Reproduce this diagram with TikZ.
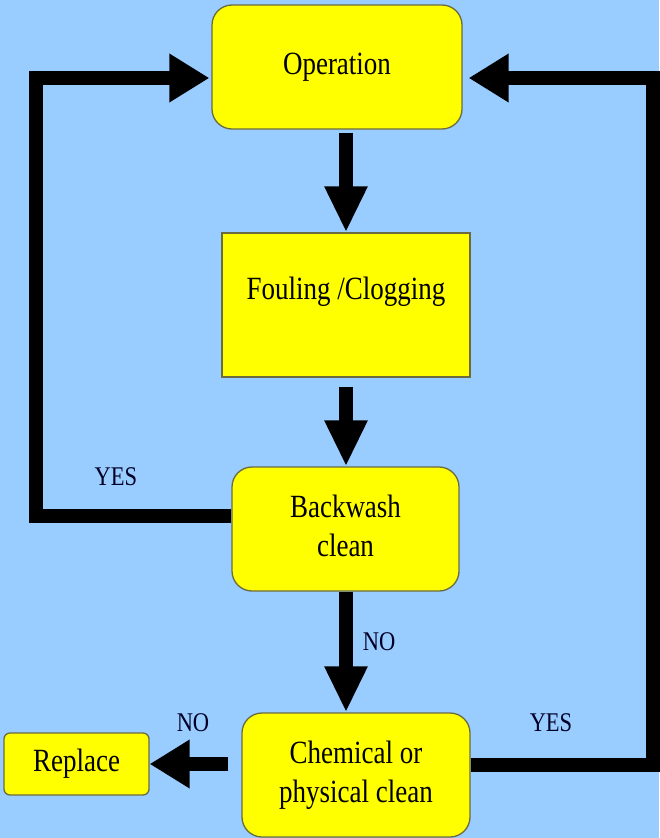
\documentclass[tikz,border=0pt]{standalone}
\usepackage{fontspec}
\setmainfont{Liberation Serif}
\usepackage{graphicx}
\usetikzlibrary{arrows.meta}
\definecolor{bgblue}{HTML}{99CCFF}
\definecolor{boxyellow}{HTML}{FFFF00}
\definecolor{boxedge}{HTML}{6B6B40}
\newcommand{\bxtext}[1]{\scalebox{1}[1.2]{\begin{tabular}{@{}c@{}}#1\end{tabular}}}
\newcommand{\lbtext}[1]{\scalebox{1}[1.2]{#1}}
\tikzset{
  box/.style={draw=boxedge, line width=1.3pt, fill=boxyellow, inner sep=0pt,
    rounded corners=20pt, font=\fontsize{27}{33}\selectfont, text=black},
  sqbox/.style={box, rounded corners=0pt},
  lbl/.style={font=\fontsize{22.5}{27}\selectfont, text=black!85!blue, inner sep=0pt},
  dnarrow/.style={line width=14pt, -{Triangle[width=40pt,length=46pt]}},
  hzarrow/.style={line width=14pt, -{Triangle[width=46pt,length=40pt]}},
}
\begin{document}
\begin{tikzpicture}[x=1pt,y=-1pt]
\fill[bgblue] (0,0) rectangle (659,838);
\useasboundingbox (0,0) rectangle (659,838);

\node[box, minimum width=250pt, minimum height=124pt] (op) at (337,67) {\raisebox{5pt}{\bxtext{Operation}}};
\node[sqbox, minimum width=248pt, minimum height=144pt] (foul) at (346,305) {\raisebox{40pt}{\bxtext{Fouling /Clogging}}};
\node[box, minimum width=227pt, minimum height=124pt] (bw) at (345.5,529) {\raisebox{17pt}{\bxtext{Backwash\\clean}}};
\node[box, minimum width=228pt, minimum height=124pt] (chem) at (356,775) {\bxtext{Chemical or\\physical clean}};
\node[box, rounded corners=6pt, minimum width=145pt, minimum height=62pt] (rep) at (76.5,764) {\bxtext{Replace}};

\node[lbl] (yes1) at (116,477) {\lbtext{YES}};
\node[lbl] (no1) at (379,642) {\lbtext{NO}};
\node[lbl] (no2) at (193,723) {\lbtext{NO}};
\node[lbl] (yes2) at (551,723) {\lbtext{YES}};

\coordinate (L1) at (35.5,516);
\coordinate (L2) at (35.5,78);
\coordinate (R1) at (653,765);
\coordinate (R2) at (653,78);

\draw[dnarrow, shorten <=3pt] (op.south -| foul.north) -- (foul.north);
\draw[dnarrow, shorten <=9pt] (foul.south) -- (bw.north -| foul.south);
\draw[dnarrow] (bw.south -| foul.south) -- (chem.north -| foul.south);
\draw[hzarrow, shorten <=13pt] (chem.west |- rep.east) -- (rep.east);
\draw[hzarrow, shorten >=2pt] (bw.west |- L1) -- (L1) -- (L2) -- (op.west |- L2);
\draw[hzarrow, shorten >=6pt] (chem.east |- R1) -- (R1) -- (R2) -- (op.east |- R2);
\end{tikzpicture}
\end{document}
